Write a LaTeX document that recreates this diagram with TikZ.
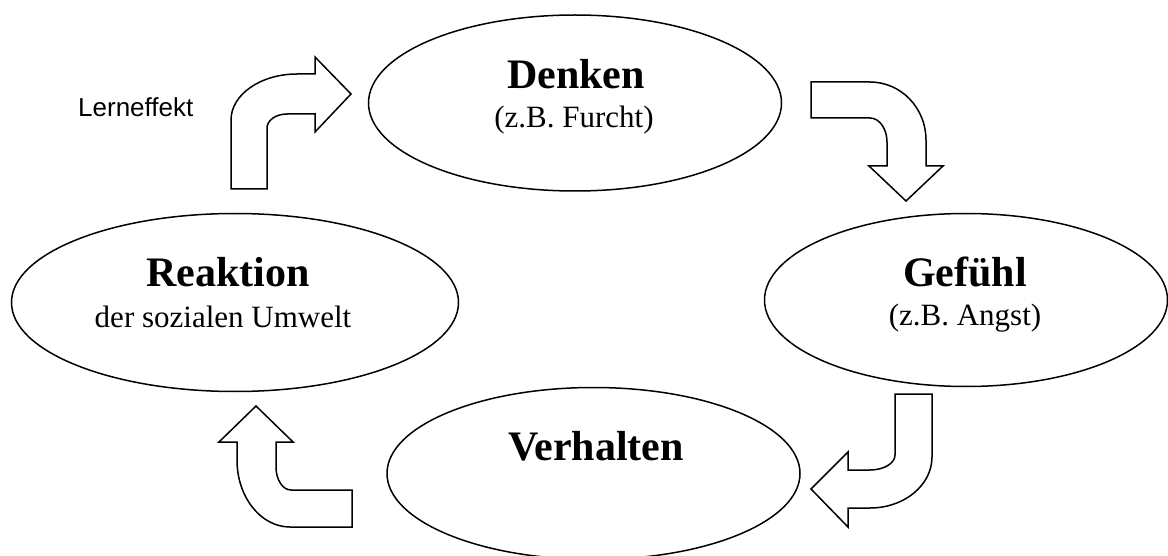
\documentclass[tikz,border=0pt]{standalone}
\usepackage{fontspec}
\setmainfont{Liberation Serif}
\newfontfamily\lsans{Liberation Sans}
\usetikzlibrary{shapes.geometric}
\tikzset{
  ell/.style={draw, ellipse, line width=1.5pt, inner sep=0pt},
  titletext/.style={font=\bfseries\fontsize{42}{48}\selectfont, anchor=base, inner sep=0pt},
  subtext/.style={font=\fontsize{31}{36}\selectfont, anchor=base, inner sep=0pt},
  blockarrow/.style={draw, fill=white, line width=1.5pt, line join=miter},
}
\begin{document}
\begin{tikzpicture}[x=1pt,y=-1pt]
\useasboundingbox (0,0) rectangle (1168,556);
% ellipses
\node[ell, minimum width=413pt, minimum height=176pt] (denken) at (575,103) {};
\node[ell, minimum width=403pt, minimum height=173pt] (gefuehl) at (966,300) {};
\node[ell, minimum width=447pt, minimum height=178pt] (reaktion) at (235,302.5) {};
\node[ell, minimum width=413pt, minimum height=172pt] (verhalten) at (593.5,473.5) {};
% texts
\node[titletext] (t1) at (576,89) {Denken};
\node[subtext] (s1) at (574,128) {(z.B. Furcht)};
\node[titletext] (t2) at (965,287) {Gefühl};
\node[subtext] (s2) at (965,325) {(z.B. Angst)};
\node[titletext] (t3) at (228,287) {Reaktion};
\node[subtext] (s3) at (223,327) {der sozialen Umwelt};
\node[titletext] (t4) at (596,460) {Verhalten};
\node[font=\lsans\fontsize{26}{30}\selectfont, anchor=base west, inner sep=0pt] (lern) at (78,117) {Lerneffekt};
% block arrows
\draw[blockarrow] (231,189) -- (231,120) .. controls (231,94.6) and (260.6,74) .. (297,74)
  -- (315,74) -- (315,57) -- (351,94) -- (315,132) -- (315,114) -- (287,114)
  .. controls (276,114) and (267,120.3) .. (267,128) -- (267,189) -- cycle;
\draw[blockarrow] (811,82) -- (870,82) .. controls (901,82) and (926,108) .. (926,140)
  -- (926,166) -- (943,166) -- (906,201) -- (869,166) -- (887,166) -- (887,142)
  .. controls (887,128.8) and (879.4,118) .. (870,118) -- (811,118) -- cycle;
\draw[blockarrow] (895,394) -- (932,394) -- (932,457) .. controls (932,485.2) and (904.2,508) .. (870,508)
  -- (848,508) -- (848,527) -- (811,489) -- (848,452) -- (848,470) -- (870,470)
  .. controls (883.8,470) and (895,463.3) .. (895,455) -- cycle;
\draw[blockarrow] (352,490) -- (352,527) -- (290,527) .. controls (260.7,527) and (237,497) .. (237,460)
  -- (237,442) -- (219,442) -- (256,406) -- (293,442) -- (276,442) -- (276,467)
  .. controls (276,479.7) and (282.7,490) .. (291,490) -- cycle;
\end{tikzpicture}
\end{document}
